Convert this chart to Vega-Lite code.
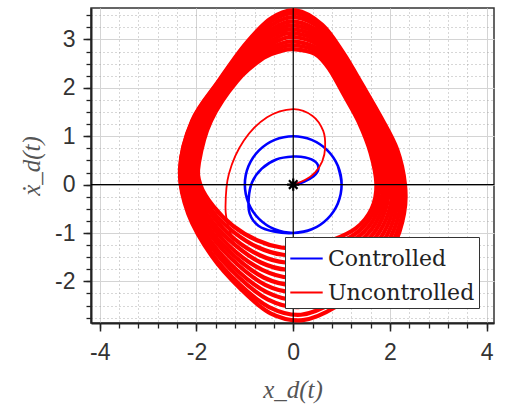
{
  "$schema": "https://vega.github.io/schema/vega-lite/v6.json",
  "width": 403,
  "height": 315,
  "autosize": {"type": "none"},
  "padding": {"left": 91, "top": 8, "right": 14, "bottom": 84},
  "background": "white",
  "config": {
    "view": {"stroke": "#333", "strokeWidth": 1.5},
    "axis": {"labelFont": "Liberation Sans", "labelFontSize": 23, "labelColor": "#333", "titleFont": "Liberation Serif", "titleFontStyle": "italic", "titleFontWeight": "normal", "titleFontSize": 25, "titleColor": "#555"}
  },
  "datasets": {
    "blue": [
      {"i":0,"x":0,"y":0},{"i":1,"x":0.22,"y":0.06},{"i":2,"x":0.42,"y":0.17},{"i":3,"x":0.52,"y":0.32},{"i":4,"x":0.46,"y":0.47},{"i":5,"x":0.25,"y":0.56},{"i":6,"x":0,"y":0.58},{"i":7,"x":-0.35,"y":0.52},{"i":8,"x":-0.65,"y":0.33},{"i":9,"x":-0.85,"y":0.05},{"i":10,"x":-0.92,"y":-0.28},{"i":11,"x":-0.9,"y":-0.6},{"i":12,"x":-0.72,"y":-0.85},{"i":13,"x":-0.4,"y":-0.97},{"i":14,"x":0,"y":-1},
      {"i":15,"x":0.383,"y":-0.924},{"i":16,"x":0.707,"y":-0.707},{"i":17,"x":0.924,"y":-0.383},{"i":18,"x":1,"y":0},{"i":19,"x":0.924,"y":0.383},{"i":20,"x":0.707,"y":0.707},{"i":21,"x":0.383,"y":0.924},{"i":22,"x":0,"y":1},{"i":23,"x":-0.383,"y":0.924},{"i":24,"x":-0.707,"y":0.707},{"i":25,"x":-0.924,"y":0.383},{"i":26,"x":-1,"y":0},{"i":27,"x":-0.924,"y":-0.383},{"i":28,"x":-0.707,"y":-0.707},{"i":29,"x":-0.383,"y":-0.924},{"i":30,"x":0,"y":-1},
      {"i":31,"x":0.383,"y":-0.924},{"i":32,"x":0.707,"y":-0.707},{"i":33,"x":0.924,"y":-0.383},{"i":34,"x":1,"y":0},{"i":35,"x":0.924,"y":0.383}
    ],
    "trans": [
      {"i":0,"x":0,"y":0},{"i":1,"x":0.25,"y":0.1},{"i":2,"x":0.45,"y":0.25},{"i":3,"x":0.6,"y":0.48},{"i":4,"x":0.66,"y":0.77},{"i":5,"x":0.62,"y":1.11},{"i":6,"x":0.4,"y":1.42},{"i":7,"x":0,"y":1.56},{"i":8,"x":-0.54,"y":1.39},{"i":9,"x":-1.02,"y":0.91},{"i":10,"x":-1.33,"y":0.22},{"i":11,"x":-1.4,"y":-0.47},{"i":12,"x":-1.34,"y":-0.88},{"i":13,"x":-1.22,"y":-1.15}
    ],
    "band": [
      {"l":0,"i":0,"x":0.05,"y":3.6},{"l":0,"i":1,"x":0.6,"y":3.3},{"l":0,"i":2,"x":1.03,"y":2.73},{"l":0,"i":3,"x":1.43,"y":2.06},{"l":0,"i":4,"x":1.82,"y":1.38},{"l":0,"i":5,"x":2.15,"y":0.72},{"l":0,"i":6,"x":2.31,"y":0},{"l":0,"i":7,"x":2.29,"y":-0.6},{"l":0,"i":8,"x":2.07,"y":-1.28},{"l":0,"i":9,"x":1.58,"y":-1.97},{"l":0,"i":10,"x":0.89,"y":-2.52},{"l":0,"i":11,"x":0.2,"y":-2.8},{"l":0,"i":12,"x":-0.47,"y":-2.66},{"l":0,"i":13,"x":-1.08,"y":-2.16},{"l":0,"i":14,"x":-1.68,"y":-1.48},{"l":0,"i":15,"x":-2.17,"y":-0.6},{"l":0,"i":16,"x":-2.34,"y":0.3},{"l":0,"i":17,"x":-2.09,"y":1.32},{"l":0,"i":18,"x":-1.55,"y":2.13},{"l":0,"i":19,"x":-1.01,"y":2.88},{"l":0,"i":20,"x":-0.47,"y":3.43},
      {"l":1,"i":0,"x":0.05,"y":3.54},{"l":1,"i":1,"x":0.6,"y":3.26},{"l":1,"i":2,"x":1.02,"y":2.71},{"l":1,"i":3,"x":1.41,"y":2.06},{"l":1,"i":4,"x":1.8,"y":1.38},{"l":1,"i":5,"x":2.12,"y":0.71},{"l":1,"i":6,"x":2.29,"y":0},{"l":1,"i":7,"x":2.26,"y":-0.59},{"l":1,"i":8,"x":2.02,"y":-1.26},{"l":1,"i":9,"x":1.52,"y":-1.92},{"l":1,"i":10,"x":0.84,"y":-2.43},{"l":1,"i":11,"x":0.16,"y":-2.69},{"l":1,"i":12,"x":-0.5,"y":-2.53},{"l":1,"i":13,"x":-1.11,"y":-2.06},{"l":1,"i":14,"x":-1.7,"y":-1.4},{"l":1,"i":15,"x":-2.17,"y":-0.54},{"l":1,"i":16,"x":-2.34,"y":0.32},{"l":1,"i":17,"x":-2.08,"y":1.32},{"l":1,"i":18,"x":-1.53,"y":2.14},{"l":1,"i":19,"x":-0.98,"y":2.87},{"l":1,"i":20,"x":-0.45,"y":3.38},
      {"l":2,"i":0,"x":0.04,"y":3.46},{"l":2,"i":1,"x":0.59,"y":3.2},{"l":2,"i":2,"x":0.99,"y":2.68},{"l":2,"i":3,"x":1.37,"y":2.03},{"l":2,"i":4,"x":1.75,"y":1.37},{"l":2,"i":5,"x":2.06,"y":0.71},{"l":2,"i":6,"x":2.22,"y":0},{"l":2,"i":7,"x":2.19,"y":-0.58},{"l":2,"i":8,"x":1.94,"y":-1.22},{"l":2,"i":9,"x":1.44,"y":-1.83},{"l":2,"i":10,"x":0.77,"y":-2.3},{"l":2,"i":11,"x":0.11,"y":-2.53},{"l":2,"i":12,"x":-0.53,"y":-2.37},{"l":2,"i":13,"x":-1.12,"y":-1.92},{"l":2,"i":14,"x":-1.69,"y":-1.29},{"l":2,"i":15,"x":-2.14,"y":-0.48},{"l":2,"i":16,"x":-2.29,"y":0.33},{"l":2,"i":17,"x":-2.04,"y":1.32},{"l":2,"i":18,"x":-1.49,"y":2.14},{"l":2,"i":19,"x":-0.94,"y":2.84},{"l":2,"i":20,"x":-0.43,"y":3.31},
      {"l":3,"i":0,"x":0.04,"y":3.37},{"l":3,"i":1,"x":0.57,"y":3.13},{"l":3,"i":2,"x":0.96,"y":2.64},{"l":3,"i":3,"x":1.33,"y":2.01},{"l":3,"i":4,"x":1.7,"y":1.36},{"l":3,"i":5,"x":2.01,"y":0.7},{"l":3,"i":6,"x":2.16,"y":0},{"l":3,"i":7,"x":2.12,"y":-0.57},{"l":3,"i":8,"x":1.86,"y":-1.18},{"l":3,"i":9,"x":1.36,"y":-1.75},{"l":3,"i":10,"x":0.71,"y":-2.18},{"l":3,"i":11,"x":0.07,"y":-2.38},{"l":3,"i":12,"x":-0.55,"y":-2.22},{"l":3,"i":13,"x":-1.14,"y":-1.79},{"l":3,"i":14,"x":-1.69,"y":-1.19},{"l":3,"i":15,"x":-2.12,"y":-0.42},{"l":3,"i":16,"x":-2.25,"y":0.35},{"l":3,"i":17,"x":-1.99,"y":1.32},{"l":3,"i":18,"x":-1.45,"y":2.14},{"l":3,"i":19,"x":-0.9,"y":2.82},{"l":3,"i":20,"x":-0.4,"y":3.24},
      {"l":4,"i":0,"x":0.03,"y":3.29},{"l":4,"i":1,"x":0.55,"y":3.07},{"l":4,"i":2,"x":0.93,"y":2.6},{"l":4,"i":3,"x":1.29,"y":1.99},{"l":4,"i":4,"x":1.65,"y":1.35},{"l":4,"i":5,"x":1.95,"y":0.69},{"l":4,"i":6,"x":2.1,"y":0},{"l":4,"i":7,"x":2.05,"y":-0.56},{"l":4,"i":8,"x":1.78,"y":-1.14},{"l":4,"i":9,"x":1.28,"y":-1.66},{"l":4,"i":10,"x":0.64,"y":-2.05},{"l":4,"i":11,"x":0.02,"y":-2.22},{"l":4,"i":12,"x":-0.58,"y":-2.07},{"l":4,"i":13,"x":-1.15,"y":-1.65},{"l":4,"i":14,"x":-1.68,"y":-1.08},{"l":4,"i":15,"x":-2.09,"y":-0.36},{"l":4,"i":16,"x":-2.21,"y":0.36},{"l":4,"i":17,"x":-1.95,"y":1.32},{"l":4,"i":18,"x":-1.41,"y":2.14},{"l":4,"i":19,"x":-0.86,"y":2.79},{"l":4,"i":20,"x":-0.38,"y":3.17},
      {"l":5,"i":0,"x":0.03,"y":3.21},{"l":5,"i":1,"x":0.54,"y":3.01},{"l":5,"i":2,"x":0.9,"y":2.57},{"l":5,"i":3,"x":1.25,"y":1.97},{"l":5,"i":4,"x":1.6,"y":1.35},{"l":5,"i":5,"x":1.89,"y":0.69},{"l":5,"i":6,"x":2.04,"y":0},{"l":5,"i":7,"x":1.98,"y":-0.55},{"l":5,"i":8,"x":1.7,"y":-1.1},{"l":5,"i":9,"x":1.2,"y":-1.58},{"l":5,"i":10,"x":0.58,"y":-1.93},{"l":5,"i":11,"x":-0.03,"y":-2.07},{"l":5,"i":12,"x":-0.61,"y":-1.92},{"l":5,"i":13,"x":-1.17,"y":-1.52},{"l":5,"i":14,"x":-1.68,"y":-0.98},{"l":5,"i":15,"x":-2.06,"y":-0.3},{"l":5,"i":16,"x":-2.17,"y":0.38},{"l":5,"i":17,"x":-1.91,"y":1.32},{"l":5,"i":18,"x":-1.37,"y":2.14},{"l":5,"i":19,"x":-0.82,"y":2.76},{"l":5,"i":20,"x":-0.36,"y":3.11},
      {"l":6,"i":0,"x":0.02,"y":3.13},{"l":6,"i":1,"x":0.52,"y":2.95},{"l":6,"i":2,"x":0.87,"y":2.53},{"l":6,"i":3,"x":1.21,"y":1.94},{"l":6,"i":4,"x":1.55,"y":1.34},{"l":6,"i":5,"x":1.83,"y":0.68},{"l":6,"i":6,"x":1.97,"y":0},{"l":6,"i":7,"x":1.9,"y":-0.54},{"l":6,"i":8,"x":1.62,"y":-1.06},{"l":6,"i":9,"x":1.12,"y":-1.49},{"l":6,"i":10,"x":0.51,"y":-1.8},{"l":6,"i":11,"x":-0.07,"y":-1.92},{"l":6,"i":12,"x":-0.64,"y":-1.76},{"l":6,"i":13,"x":-1.19,"y":-1.39},{"l":6,"i":14,"x":-1.67,"y":-0.87},{"l":6,"i":15,"x":-2.03,"y":-0.24},{"l":6,"i":16,"x":-2.12,"y":0.39},{"l":6,"i":17,"x":-1.87,"y":1.32},{"l":6,"i":18,"x":-1.32,"y":2.14},{"l":6,"i":19,"x":-0.77,"y":2.73},{"l":6,"i":20,"x":-0.34,"y":3.04},
      {"l":7,"i":0,"x":0.02,"y":3.05},{"l":7,"i":1,"x":0.5,"y":2.89},{"l":7,"i":2,"x":0.84,"y":2.49},{"l":7,"i":3,"x":1.17,"y":1.92},{"l":7,"i":4,"x":1.5,"y":1.33},{"l":7,"i":5,"x":1.77,"y":0.67},{"l":7,"i":6,"x":1.91,"y":0},{"l":7,"i":7,"x":1.83,"y":-0.53},{"l":7,"i":8,"x":1.54,"y":-1.02},{"l":7,"i":9,"x":1.04,"y":-1.41},{"l":7,"i":10,"x":0.45,"y":-1.68},{"l":7,"i":11,"x":-0.12,"y":-1.76},{"l":7,"i":12,"x":-0.67,"y":-1.61},{"l":7,"i":13,"x":-1.2,"y":-1.25},{"l":7,"i":14,"x":-1.67,"y":-0.77},{"l":7,"i":15,"x":-2.0,"y":-0.18},{"l":7,"i":16,"x":-2.08,"y":0.41},{"l":7,"i":17,"x":-1.83,"y":1.32},{"l":7,"i":18,"x":-1.28,"y":2.14},{"l":7,"i":19,"x":-0.73,"y":2.7},{"l":7,"i":20,"x":-0.32,"y":2.97},
      {"l":8,"i":0,"x":0.01,"y":2.96},{"l":8,"i":1,"x":0.48,"y":2.82},{"l":8,"i":2,"x":0.81,"y":2.45},{"l":8,"i":3,"x":1.13,"y":1.9},{"l":8,"i":4,"x":1.45,"y":1.32},{"l":8,"i":5,"x":1.72,"y":0.66},{"l":8,"i":6,"x":1.85,"y":0},{"l":8,"i":7,"x":1.76,"y":-0.52},{"l":8,"i":8,"x":1.46,"y":-0.98},{"l":8,"i":9,"x":0.96,"y":-1.32},{"l":8,"i":10,"x":0.38,"y":-1.55},{"l":8,"i":11,"x":-0.16,"y":-1.61},{"l":8,"i":12,"x":-0.69,"y":-1.46},{"l":8,"i":13,"x":-1.22,"y":-1.12},{"l":8,"i":14,"x":-1.66,"y":-0.66},{"l":8,"i":15,"x":-1.98,"y":-0.12},{"l":8,"i":16,"x":-2.04,"y":0.42},{"l":8,"i":17,"x":-1.78,"y":1.32},{"l":8,"i":18,"x":-1.24,"y":2.14},{"l":8,"i":19,"x":-0.69,"y":2.68},{"l":8,"i":20,"x":-0.29,"y":2.9},
      {"l":9,"i":0,"x":0.01,"y":2.88},{"l":9,"i":1,"x":0.47,"y":2.76},{"l":9,"i":2,"x":0.78,"y":2.42},{"l":9,"i":3,"x":1.09,"y":1.87},{"l":9,"i":4,"x":1.4,"y":1.31},{"l":9,"i":5,"x":1.66,"y":0.66},{"l":9,"i":6,"x":1.78,"y":0},{"l":9,"i":7,"x":1.69,"y":-0.51},{"l":9,"i":8,"x":1.38,"y":-0.94},{"l":9,"i":9,"x":0.88,"y":-1.24},{"l":9,"i":10,"x":0.32,"y":-1.43},{"l":9,"i":11,"x":-0.21,"y":-1.45},{"l":9,"i":12,"x":-0.72,"y":-1.3},{"l":9,"i":13,"x":-1.23,"y":-0.98},{"l":9,"i":14,"x":-1.66,"y":-0.56},{"l":9,"i":15,"x":-1.95,"y":-0.06},{"l":9,"i":16,"x":-1.99,"y":0.44},{"l":9,"i":17,"x":-1.74,"y":1.32},{"l":9,"i":18,"x":-1.2,"y":2.14},{"l":9,"i":19,"x":-0.65,"y":2.65},{"l":9,"i":20,"x":-0.27,"y":2.83},
      {"l":10,"i":0,"x":0,"y":2.8},{"l":10,"i":1,"x":0.45,"y":2.7},{"l":10,"i":2,"x":0.75,"y":2.38},{"l":10,"i":3,"x":1.05,"y":1.85},{"l":10,"i":4,"x":1.35,"y":1.3},{"l":10,"i":5,"x":1.6,"y":0.65},{"l":10,"i":6,"x":1.72,"y":0},{"l":10,"i":7,"x":1.62,"y":-0.5},{"l":10,"i":8,"x":1.3,"y":-0.9},{"l":10,"i":9,"x":0.8,"y":-1.15},{"l":10,"i":10,"x":0.25,"y":-1.3},{"l":10,"i":11,"x":-0.25,"y":-1.3},{"l":10,"i":12,"x":-0.75,"y":-1.15},{"l":10,"i":13,"x":-1.25,"y":-0.85},{"l":10,"i":14,"x":-1.65,"y":-0.45},{"l":10,"i":15,"x":-1.92,"y":0},{"l":10,"i":16,"x":-1.95,"y":0.45},{"l":10,"i":17,"x":-1.7,"y":1.32},{"l":10,"i":18,"x":-1.16,"y":2.14},{"l":10,"i":19,"x":-0.61,"y":2.62},{"l":10,"i":20,"x":-0.25,"y":2.76}
    ],
    "zero": [{"v": 0}],
    "origin": [{"x": 0, "y": 0}]
  },
  "layer": [
    {
      "data": {"name": "blue"},
      "mark": {"type": "line", "interpolate": "cardinal", "strokeWidth": 2.6, "clip": true},
      "encoding": {
        "x": {"field": "x", "type": "quantitative", "scale": {"domain": [-4.18, 4.15], "nice": false, "zero": false},
          "axis": {"orient": "bottom", "values": [-4,-3.6,-3.2,-2.8,-2.4,-2,-1.6,-1.2,-0.8,-0.4,0,0.4,0.8,1.2,1.6,2,2.4,2.8,3.2,3.6,4], "grid": true, "gridDash": [1, 3], "gridColor": "#999", "gridWidth": 0.8, "tickSize": 5, "tickColor": "#222", "tickWidth": 1.3, "labels": false, "domain": false, "title": null}},
        "y": {"field": "y", "type": "quantitative", "scale": {"domain": [-2.86, 3.65], "nice": false, "zero": false},
          "axis": {"orient": "left", "values": [-2.75,-2.5,-2.25,-2,-1.75,-1.5,-1.25,-1,-0.75,-0.5,-0.25,0,0.25,0.5,0.75,1,1.25,1.5,1.75,2,2.25,2.5,2.75,3,3.25,3.5], "grid": true, "gridDash": [1, 3], "gridColor": "#999", "gridWidth": 0.8, "tickSize": 5, "tickColor": "#222", "tickWidth": 1.3, "labels": false, "domain": false, "title": null}},
        "order": {"field": "i", "type": "quantitative"},
        "color": {"datum": "Controlled", "type": "nominal",
          "scale": {"domain": ["Controlled", "Uncontrolled"], "range": ["#0000ff", "#ff0000"]},
          "legend": {"title": null, "orient": "bottom-right", "offset": 15, "fillColor": "white", "strokeColor": "#333", "padding": 4, "rowPadding": 5, "labelFont": "DejaVu Serif", "labelFontSize": 22, "labelColor": "#222", "symbolType": "stroke", "symbolSize": 1050, "symbolStrokeWidth": 2, "labelOffset": 4, "labelLimit": 300}}
      }
    },
    {
      "data": {"name": "band"},
      "mark": {"type": "line", "interpolate": "cardinal-closed", "strokeWidth": 4.2, "clip": true},
      "encoding": {
        "x": {"field": "x", "type": "quantitative",
          "axis": {"orient": "bottom", "values": [-4, -2, 0, 2, 4], "labelExpr": "'' + datum.value", "grid": true, "gridColor": "#d4d4d4", "gridWidth": 1, "tickSize": 8, "tickColor": "#222", "tickWidth": 1.5, "domain": true, "domainColor": "#222", "domainWidth": 2, "labelPadding": 10, "labelFlush": false, "title": "x_d(t)", "titlePadding": 13}},
        "y": {"field": "y", "type": "quantitative",
          "axis": {"orient": "left", "values": [-2, -1, 0, 1, 2, 3], "labelExpr": "'' + datum.value", "grid": true, "gridColor": "#d4d4d4", "gridWidth": 1, "tickSize": 8, "tickColor": "#222", "tickWidth": 1.5, "domain": true, "domainColor": "#222", "domainWidth": 2, "labelPadding": 8, "labelFlush": false, "title": "ẋ_d(t)", "titlePadding": 10}},
        "detail": {"field": "l", "type": "nominal"},
        "order": {"field": "i", "type": "quantitative"},
        "color": {"datum": "Uncontrolled", "type": "nominal"}
      }
    },
    {
      "data": {"name": "trans"},
      "mark": {"type": "line", "interpolate": "cardinal", "strokeWidth": 1.8, "clip": true},
      "encoding": {
        "x": {"field": "x", "type": "quantitative", "axis": null},
        "y": {"field": "y", "type": "quantitative", "axis": null},
        "order": {"field": "i", "type": "quantitative"},
        "color": {"datum": "Uncontrolled", "type": "nominal"}
      }
    },
    {
      "data": {"name": "zero"},
      "mark": {"type": "rule", "color": "black", "strokeWidth": 1.2},
      "encoding": {"x": {"field": "v", "type": "quantitative", "axis": null}}
    },
    {
      "data": {"name": "zero"},
      "mark": {"type": "rule", "color": "black", "strokeWidth": 1.2},
      "encoding": {"y": {"field": "v", "type": "quantitative", "axis": null}}
    },
    {
      "data": {"name": "origin"},
      "mark": {"type": "point", "shape": "M-1,0L1,0M0,-1L0,1M-0.7,-0.7L0.7,0.7M-0.7,0.7L0.7,-0.7", "size": 150, "stroke": "black", "strokeWidth": 2.2, "filled": false, "opacity": 1},
      "encoding": {
        "x": {"field": "x", "type": "quantitative", "axis": null},
        "y": {"field": "y", "type": "quantitative", "axis": null}
      }
    }
  ],
  "resolve": {"axis": {"x": "independent", "y": "independent"}}
}
